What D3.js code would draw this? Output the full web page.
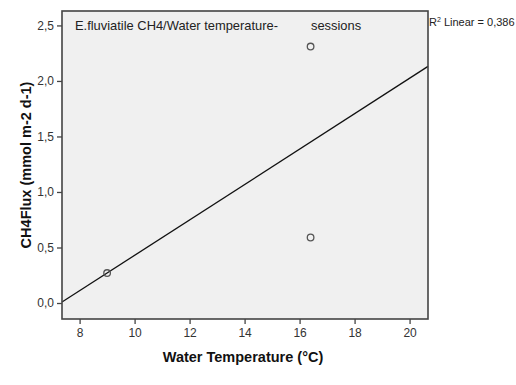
<!DOCTYPE html>
<html><head><meta charset="utf-8">
<script src="https://cdn.jsdelivr.net/npm/d3@7"></script>
<style>body{margin:0;background:#fff}svg{display:block;font-family:Arial,"Liberation Sans",sans-serif}</style>
</head><body><svg id="c" width="516" height="385"></svg>
<script>
const temps = [9.0, 16.4, 16.4];
const fluxes = [0.27, 2.31, 0.59];
const xTicks = [8, 10, 12, 14, 16, 18, 20];
const yTicks = [0, 0.5, 1.0, 1.5, 2.0, 2.5];
const titleText = "E.fluviatile CH4/Water temperature-";
const titleText2 = "sessions";
const xLabel = "Water Temperature (°C)";
const yLabel = "CH4Flux (mmol m-2 d-1)";

const svg = d3.select("#c");
const L = 62, T = 11, R = 428, B = 319;
const x = d3.scaleLinear().domain([7.36, 20.67]).range([L, R]);
const y = d3.scaleLinear().domain([-0.144, 2.63]).range([B, T]);

svg.append("rect").attr("x", L).attr("y", T).attr("width", R - L).attr("height", B - T)
  .attr("fill", "#f0f0f0");

// regression
const n = temps.length;
const mx = d3.mean(temps), my = d3.mean(fluxes);
let sxx = 0, sxy = 0, syy = 0;
for (let i = 0; i < n; i++) { sxx += (temps[i]-mx)**2; sxy += (temps[i]-mx)*(fluxes[i]-my); syy += (fluxes[i]-my)**2; }
const slope = sxy / sxx, icpt = my - slope * mx;
const r2 = sxy * sxy / (sxx * syy);
const [x0, x1] = x.domain();
svg.append("line").attr("x1", x(x0)).attr("y1", y(icpt + slope * x0))
  .attr("x2", x(x1)).attr("y2", y(icpt + slope * x1))
  .attr("stroke", "#111").attr("stroke-width", 1.3);

svg.selectAll("circle.pt").data(temps).enter().append("circle")
  .attr("cx", (d) => x(d)).attr("cy", (d, i) => y(fluxes[i])).attr("r", 3.3)
  .attr("fill", "none").attr("stroke", "#555").attr("stroke-width", 1.3);

svg.append("rect").attr("x", L).attr("y", T).attr("width", R - L).attr("height", B - T)
  .attr("fill", "none").attr("stroke", "#444").attr("stroke-width", 1.6);

const xa = svg.append("g").attr("transform", `translate(0,${B})`)
  .call(d3.axisBottom(x).tickValues(xTicks).tickSize(5).tickPadding(4).tickFormat(d3.format("d")));
const ya = svg.append("g").attr("transform", `translate(${L},0)`)
  .call(d3.axisLeft(y).tickValues(yTicks).tickSize(5).tickPadding(3).tickFormat(d => d3.format(".1f")(d).replace(".", ",")));
[xa, ya].forEach(g => {
  g.select(".domain").remove();
  g.selectAll(".tick line").attr("stroke", "#444").attr("stroke-width", 1.3);
  g.selectAll(".tick text").attr("fill", "#333").style("font-size", "12px").style("font-family", "Arial, 'Liberation Sans', sans-serif");
});

svg.append("text").attr("x", 75).attr("y", 30).attr("fill", "#222").style("font-size", "12.9px").text(titleText);
svg.append("text").attr("x", 311).attr("y", 30).attr("fill", "#222").style("font-size", "12.9px").text(titleText2);

const rt = svg.append("text").attr("x", 429).attr("y", 26).attr("fill", "#222").style("font-size", "11px");
rt.append("tspan").text("R");
rt.append("tspan").attr("dy", -4).style("font-size", "7px").text("2");
rt.append("tspan").attr("dy", 4).text(" Linear = " + d3.format(".3f")(r2).replace(".", ","));

svg.append("text").attr("x", (L + R) / 2 - 2).attr("y", 362).attr("text-anchor", "middle")
  .attr("fill", "#111").style("font-size", "14.5px").style("font-weight", "bold").text(xLabel);
svg.append("text").attr("transform", `translate(31,${(T + B) / 2}) rotate(-90)`).attr("text-anchor", "middle")
  .attr("fill", "#111").style("font-size", "14.5px").style("font-weight", "bold").text(yLabel);
</script></body></html>
